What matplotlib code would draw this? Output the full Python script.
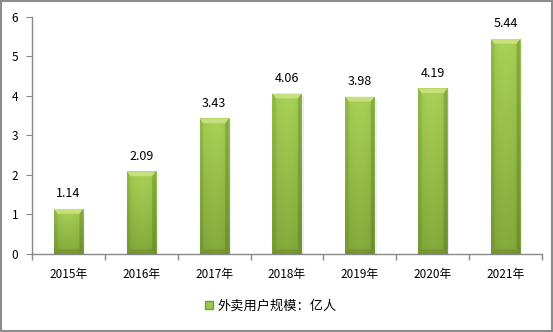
import numpy as np
import matplotlib.pyplot as plt
from matplotlib.patches import Rectangle, Polygon, Patch
from matplotlib.colors import to_rgb

plt.rcParams['font.family'] = ['Noto Sans CJK SC', 'DejaVu Sans']

years = ['2015年', '2016年', '2017年', '2018年', '2019年', '2020年', '2021年']
users = [1.14, 2.09, 3.43, 4.06, 3.98, 4.19, 5.44]
series_name = '外卖用户规模：亿人'

fig = plt.figure(figsize=(5.53, 3.32), dpi=100)
ax = fig.add_axes([0.058, 0.235, 0.922, 0.714])

# 柱子填充：上亮下暗的竖直渐变，两侧稍暗
top_c = np.array(to_rgb('#a8d256'))
bot_c = np.array(to_rgb('#84aa3b'))
t = np.linspace(0, 1, 64)[:, None, None]           # 0 = 顶部, 1 = 底部
s = np.linspace(-1, 1, 32)[None, :, None]
fill = (1 - t) * top_c + t * bot_c
fill = fill * (1 - 0.06 * s ** 2)

w = 0.4
bx = 0.05   # 斜角宽度（x方向）
by = 0.12   # 斜角高度（y方向）
x = np.arange(len(years))
for xi, v in zip(x, users):
    l, r = xi - w / 2, xi + w / 2
    # 右侧阴影
    ax.add_patch(Rectangle((r, 0), 0.03, v - 0.05, color='#000000', alpha=0.07, lw=0, zorder=1))
    rect = Rectangle((l, 0), w, v, facecolor='none', lw=0, zorder=2)
    ax.add_patch(rect)
    im = ax.imshow(fill, aspect='auto', extent=(l, r, 0, v), zorder=2)
    im.set_clip_path(rect)
    # 顶部斜面
    ax.add_patch(Polygon([(l, v), (r, v), (r - bx, v - by), (l + bx, v - by)],
                         closed=True, facecolor='#c6e07e', lw=0, zorder=3))
    # 左右侧斜面
    ax.add_patch(Polygon([(l, v), (l + bx, v - by), (l + bx, by), (l, 0)],
                         closed=True, facecolor='#3d5a10', alpha=0.12, lw=0, zorder=3))
    ax.add_patch(Polygon([(r, v), (r - bx, v - by), (r - bx, by), (r, 0)],
                         closed=True, facecolor='#3d5a10', alpha=0.25, lw=0, zorder=3))
    # 底部斜面
    ax.add_patch(Polygon([(l, 0), (r, 0), (r - bx, by), (l + bx, by)],
                         closed=True, facecolor='#3d5a10', alpha=0.2, lw=0, zorder=3))
    ax.text(xi, v + 0.22, f'{v:.2f}', ha='center', va='bottom', fontsize=9, color='#000000')

ax.set_xlim(-0.5, len(years) - 0.5)
ax.set_ylim(0, 6)
ax.set_yticks(range(0, 7))
ax.set_xticks(x)
ax.set_xticklabels(years, fontsize=8.5)
ax.set_xticks(np.arange(-0.5, len(years)), minor=True)
ax.tick_params(axis='x', which='major', length=0, pad=10)
ax.tick_params(axis='x', which='minor', length=4, color='#888888', width=1)
ax.tick_params(axis='y', length=4, color='#888888', labelsize=8.5, pad=6)

for sp in ['top', 'right']:
    ax.spines[sp].set_visible(False)
for sp in ['left', 'bottom']:
    ax.spines[sp].set_color('#888888')
    ax.spines[sp].set_linewidth(1)

fig.legend(handles=[Patch(facecolor='#9cc64c', edgecolor='#7a9e36', label=series_name)],
           loc='center', bbox_to_anchor=(0.49, 0.078), frameon=False, fontsize=9.5,
           handlelength=0.6, handleheight=0.6, handletextpad=0.4)

# 外框
fig.patches.append(Rectangle((0.001, 0.003), 0.997, 0.994, transform=fig.transFigure,
                             fill=False, edgecolor='#8c8c8c', lw=1.5))

fig.savefig('out.png', dpi=100)
